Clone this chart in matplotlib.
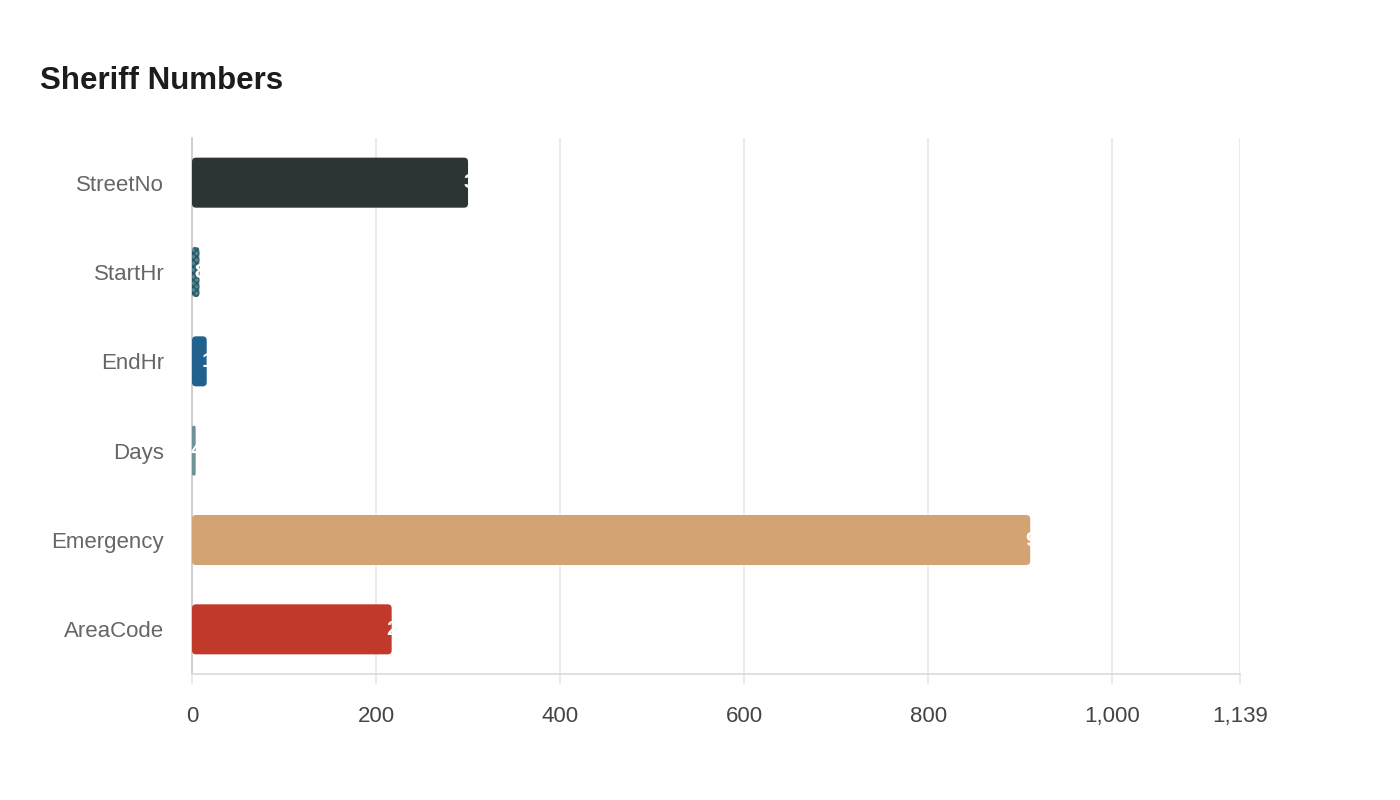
import matplotlib
matplotlib.use('Agg')
import matplotlib.pyplot as plt
from matplotlib.patches import FancyBboxPatch

plt.rcParams['font.family'] = ['Liberation Sans', 'DejaVu Sans']

# data
categories = ['StreetNo', 'StartHr', 'EndHr', 'Days', 'Emergency', 'AreaCode']
values = [300, 8, 16, 4, 911, 217]
colors = ['#2d3436', '#4f8595', '#22618e', '#6f9198', '#d3a373', '#c0392b']
hatches = [None, 'xxxxx', None, None, None, None]
x_max = 1139
xticks = [0, 200, 400, 600, 800, 1000, 1139]

fig = plt.figure(figsize=(14, 8), dpi=100)
ax = fig.add_axes([192 / 1400, 1 - 674 / 800, (1240 - 192) / 1400, (674 - 138) / 800])

n = len(categories)
ypos = list(range(n))
bar_h = 0.56

ax.set_xlim(0, x_max)
ax.set_ylim(n - 0.5, -0.5)

# rounded bars: rounding in data units, corrected for axes aspect
px_x = x_max / (1240 - 192)
px_y = n / (674 - 138)
aspect = px_y / px_x
for y, v, c, h in zip(ypos, values, colors, hatches):
    r = min(4 * px_x, v / 2)
    p = FancyBboxPatch((0, y - bar_h / 2), v, bar_h,
                       boxstyle='round,pad=0,rounding_size=%f' % r,
                       mutation_aspect=aspect, facecolor=c,
                       edgecolor='#2d5560' if h else 'none', linewidth=0,
                       hatch=h, zorder=3)
    ax.add_patch(p)
    ax.text(v - 5 * px_x, y, f'{v}', color='white', fontsize=15,
            fontweight='bold', va='center', ha='left', zorder=4)

ax.set_yticks(ypos)
ax.set_yticklabels(categories, fontsize=16, color='#666666')
ax.set_xticks(xticks)
ax.set_xticklabels([f'{t:,}' for t in xticks], fontsize=16, color='#444444')
ax.tick_params(axis='y', length=0, pad=20)
ax.tick_params(axis='x', length=7, width=1.5, color='#ebebeb', pad=16)

ax.grid(axis='x', color='#e8e8e8', linewidth=1.2, zorder=0)
for s in ['top', 'right']:
    ax.spines[s].set_visible(False)
ax.spines['left'].set_color('#cccccc')
ax.spines['left'].set_linewidth(1.3)
ax.spines['bottom'].set_color('#dddddd')
ax.spines['bottom'].set_linewidth(1.3)

fig.text(40 / 1400, 1 - 81 / 800, 'Sheriff Numbers', fontsize=22.5,
         fontweight='bold', color='#1c1c1c', va='center', ha='left')

fig.savefig('out.png', dpi=100, facecolor='white')
